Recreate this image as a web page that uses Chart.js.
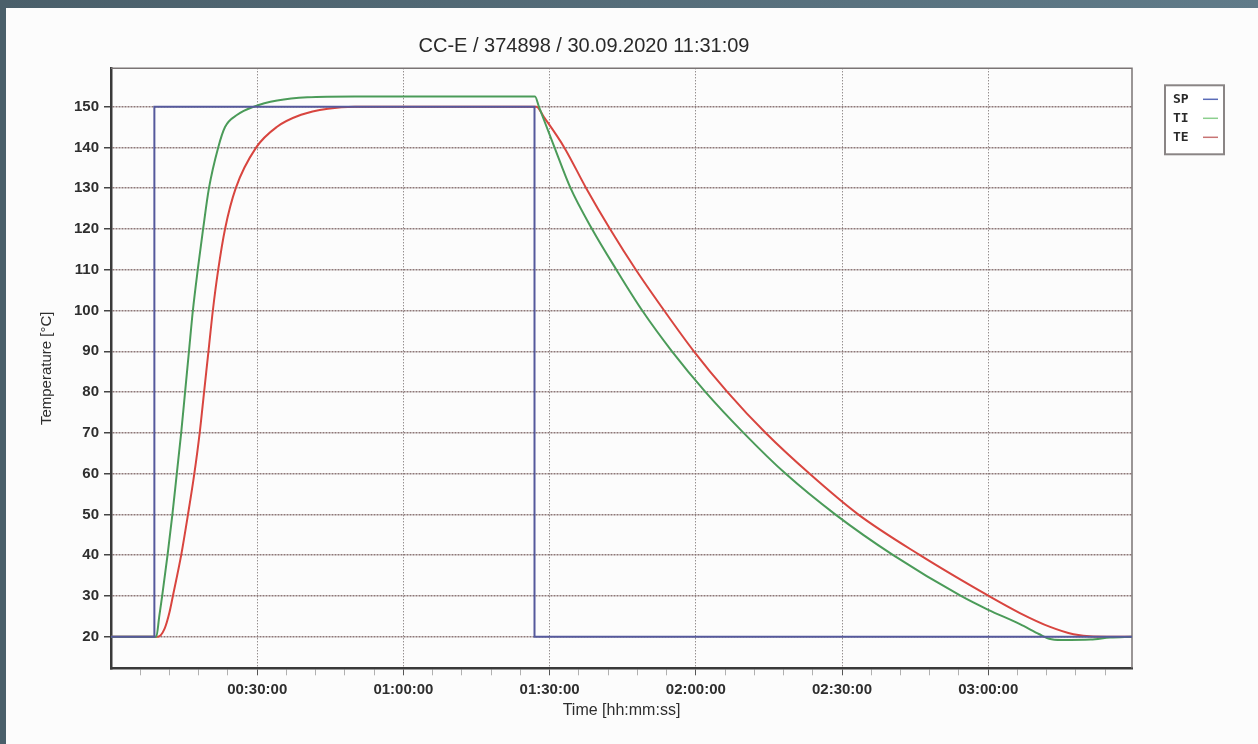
<!DOCTYPE html>
<html>
<head>
<meta charset="utf-8">
<title>CC-E / 374898</title>
<script src="https://cdn.jsdelivr.net/npm/chart.js@4.4.1/dist/chart.umd.min.js"></script>
<style>
  html, body { margin: 0; padding: 0; background: #fcfcfc; }
</style>
</head>
<body>
<canvas id="myChart" width="1258" height="744"></canvas>
<script>
// time in minutes since start, temperatures in degC
const spTime = [0, 8.9, 8.9, 86.9, 86.9, 209.5];
const spTemp = [20, 20, 150, 150, 20, 20];

const tiTime = [0, 9.3, 9.9, 10.5, 11.6, 12.6, 13.5, 14.4, 15.2, 16.0, 16.8, 17.8, 18.9, 20.1, 22.0, 23.4, 25.9, 29.3, 34.1, 40.3,
  50, 87.0, 87.8, 91.0, 94.3, 98.7, 103.7, 109.0, 115.1, 122.0, 129.8, 138.4, 148.6, 160.5, 174.4, 180, 186.5, 190.5, 192.5, 195, 201, 205, 209.5];
const tiTemp = [20, 20, 25, 30, 40, 50, 60, 70, 80, 90, 100, 110, 120, 130, 140, 145, 148, 150, 151.5, 152.3,
  152.5, 152.5, 150, 140, 130, 120, 110, 100, 90, 80, 70, 60, 50, 40, 30, 26.6, 23.1, 20.6, 19.5, 19.2, 19.3, 19.8, 20];

const teTime = [0, 9.6, 11.0, 12.0, 12.7, 14.4, 15.8, 17.1, 18.2, 19.1, 20.0, 20.9, 22.0, 23.4, 25.6, 29.8, 34.0, 39.0, 44.5, 50,
  87.3, 88.8, 93.0, 97.5, 102.4, 107.7, 113.5, 119.6, 126.5, 134.3, 143.3, 153.3, 166.0, 180.1, 186.5, 192.7, 197.5, 201.5, 209.5];
const teTemp = [20, 20, 22, 26, 30, 40, 50, 60, 70, 80, 90, 100, 110, 120, 130, 140, 145, 148, 149.5, 150,
  150, 147.5, 140, 130, 120, 110, 100, 90, 80, 70, 60, 50, 40, 30, 25.8, 22.4, 20.6, 20.05, 20];

const yTicks = [20, 30, 40, 50, 60, 70, 80, 90, 100, 110, 120, 130, 140, 150];
const xMajor = [30, 60, 90, 120, 150, 180];
const xMinorStep = 6;
const xMax = 209.5;

const titleText = 'CC-E / 374898 / 30.09.2020 11:31:09';
const FONT = '"Liberation Sans", Arial, sans-serif';

function toPoints(xs, ys) {
  return xs.map((x, i) => ({ x: x, y: ys[i] }));
}
function hms(min) {
  const h = Math.floor(min / 60), m = min % 60;
  return String(h).padStart(2, '0') + ':' + String(m).padStart(2, '0') + ':00';
}
const xTickValues = [];
for (let v = xMinorStep; v < xMax; v += xMinorStep) xTickValues.push(v);

// dark frame at top/left of the screenshot
const framePlugin = {
  id: 'frame',
  beforeDraw(chart) {
    const ctx = chart.ctx;
    ctx.save();
    const g = ctx.createLinearGradient(0, 0, chart.width, 0);
    g.addColorStop(0, '#4a5f6a');
    g.addColorStop(1, '#607b89');
    ctx.fillStyle = g;
    ctx.fillRect(0, 0, chart.width, 8);
    ctx.fillStyle = '#4a5f6a';
    ctx.fillRect(0, 0, 6, chart.height);
    ctx.restore();
  },
  beforeDatasetsDraw(chart) {
    const ctx = chart.ctx, a = chart.chartArea;
    ctx.save();
    ctx.strokeStyle = '#7a7474';
    ctx.lineWidth = 1.5;
    ctx.beginPath();
    ctx.moveTo(a.left, a.top);
    ctx.lineTo(a.right, a.top);
    ctx.lineTo(a.right, a.bottom);
    ctx.stroke();
    ctx.restore();
  }
};

// legend box: label first, then a short line sample
const boxLegend = {
  id: 'boxLegend',
  afterDraw(chart) {
    const ctx = chart.ctx, a = chart.chartArea;
    const x0 = a.right + 33, y0 = a.top + 17, w = 59, h = 69;
    ctx.save();
    ctx.fillStyle = '#ffffff';
    ctx.fillRect(x0, y0, w, h);
    ctx.strokeStyle = '#8a8585';
    ctx.lineWidth = 2;
    ctx.strokeRect(x0, y0, w, h);
    ctx.font = 'bold 13px "DejaVu Sans Mono", monospace';
    ctx.textBaseline = 'middle';
    chart.data.datasets.forEach((ds, i) => {
      const y = y0 + 14 + i * 19;
      ctx.fillStyle = '#2a2a2a';
      ctx.fillText(ds.label, x0 + 8, y);
      ctx.strokeStyle = ds.legendColor;
      ctx.lineWidth = 1.5;
      ctx.beginPath();
      ctx.moveTo(x0 + 38, y);
      ctx.lineTo(x0 + 53, y);
      ctx.stroke();
    });
    ctx.restore();
  }
};

const config = {
  type: 'line',
  data: {
    datasets: [
      { label: 'SP', data: toPoints(spTime, spTemp), borderColor: '#55599c', legendColor: '#5b6cb8', borderWidth: 2, pointRadius: 0, tension: 0 },
      { label: 'TI', data: toPoints(tiTime, tiTemp), borderColor: '#4b9b59', legendColor: '#8ccf8e', borderWidth: 2, pointRadius: 0, cubicInterpolationMode: 'monotone' },
      { label: 'TE', data: toPoints(teTime, teTemp), borderColor: '#d8453f', legendColor: '#c87474', borderWidth: 2, pointRadius: 0, cubicInterpolationMode: 'monotone' }
    ]
  },
  options: {
    responsive: false,
    animation: false,
    devicePixelRatio: 1,
    layout: { padding: { left: 36, right: 126, top: 8, bottom: 0 } },
    plugins: {
      legend: { display: false },
      tooltip: { enabled: false },
      title: {
        display: true,
        text: titleText,
        color: '#2a2a2a',
        font: { family: FONT, size: 20, weight: 'normal' },
        padding: { top: 26, bottom: 10.3 }
      }
    },
    scales: {
      x: {
        type: 'linear',
        min: 0,
        max: xMax,
        afterBuildTicks: s => { s.ticks = xTickValues.map(v => ({ value: v })); },
        afterFit: s => { s.height = 75.7; },
        ticks: {
          autoSkip: false,
          maxRotation: 0,
          padding: 6,
          color: '#2e2e2e',
          font: { family: FONT, size: 15, weight: 'bold' },
          callback: v => xMajor.includes(v) ? hms(v) : ''
        },
        grid: {
          color: c => (c.tick && xMajor.includes(c.tick.value)) ? 'rgba(90,80,80,0.9)' : 'rgba(0,0,0,0)',
          tickColor: c => (c.tick && xMajor.includes(c.tick.value)) ? '#555' : '#b0b0b0',
          tickLength: 7,
          lineWidth: 1
        },
        border: { color: '#3a3a3a', width: 2.5, dash: [1, 2] },
        title: {
          display: true,
          text: 'Time [hh:mm:ss]',
          color: '#2e2e2e',
          font: { family: FONT, size: 16 },
          padding: { top: 0, bottom: 24 }
        }
      },
      y: {
        min: 12.25,
        max: 159.4,
        afterBuildTicks: s => { s.ticks = yTicks.map(v => ({ value: v })); },
        afterFit: s => { s.width = 75; },
        ticks: {
          padding: 5,
          color: '#2e2e2e',
          font: { family: FONT, size: 15, weight: 'bold' }
        },
        grid: {
          color: 'rgba(130,105,105,0.9)',
          tickColor: '#444',
          tickLength: 7,
          lineWidth: 1.5
        },
        border: { color: '#3a3a3a', width: 2.5, dash: [2, 1] },
        title: {
          display: true,
          text: 'Temperature [°C]',
          color: '#2e2e2e',
          font: { family: FONT, size: 15 },
          padding: { top: 2, bottom: 0 }
        }
      }
    }
  },
  plugins: [framePlugin, boxLegend]
};

const myChart = new Chart(document.getElementById('myChart'), config);
</script>
</body>
</html>
